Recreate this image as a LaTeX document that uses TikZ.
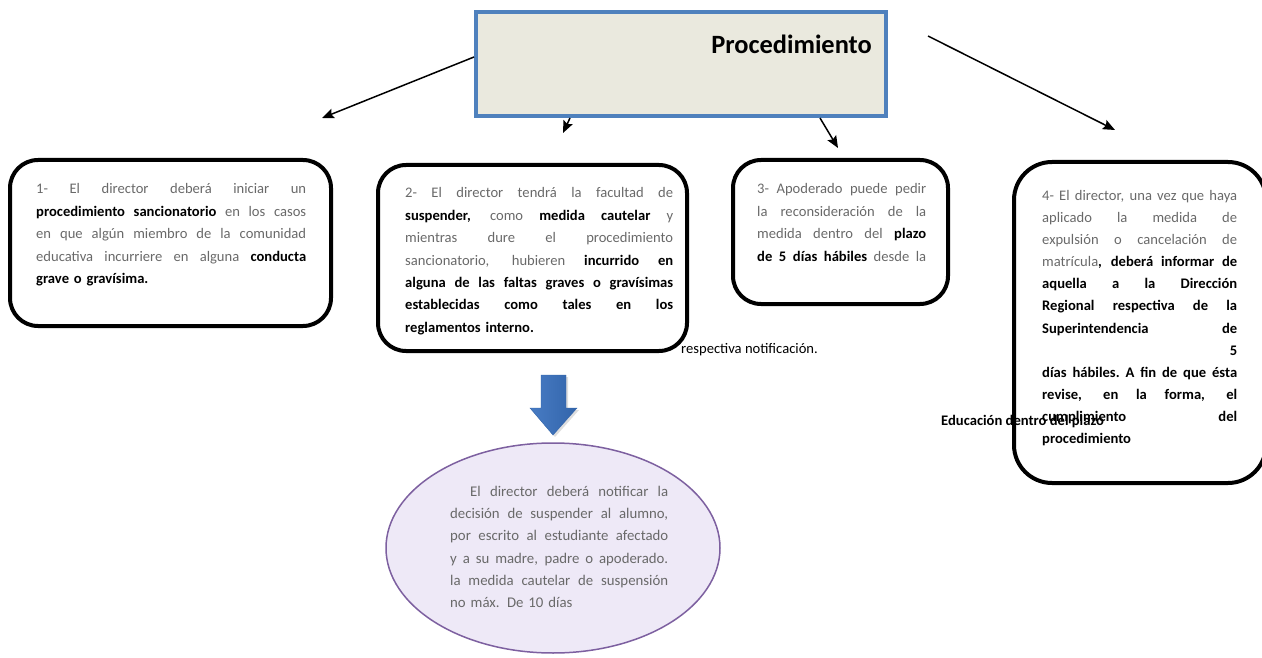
\documentclass[tikz,border=0pt]{standalone}
\usepackage{fontspec}
\setmainfont{Carlito}
\usetikzlibrary{arrows.meta,shapes.geometric}
\definecolor{tgray}{RGB}{105,105,105}
\definecolor{tblue}{RGB}{79,129,189}
\definecolor{tfill}{RGB}{234,233,222}
\definecolor{efill}{RGB}{238,233,247}
\definecolor{edraw}{RGB}{125,96,160}
\definecolor{abl}{RGB}{72,124,196}
\definecolor{abd}{RGB}{50,100,170}
\definecolor{shd}{RGB}{200,200,200}
\newcommand\jl[1]{\makebox[\linewidth][s]{\spaceskip=0.25em plus 10em minus 0.05em\xspaceskip=\spaceskip #1}}
\newcommand\bk[1]{\textbf{\color{black}#1}}
\begin{document}
\begin{tikzpicture}[x=1pt,y=-1pt,
  rbox/.style={draw=black,line width=4pt,rounded corners=28pt,inner sep=0pt},
  btxt/.style={inner sep=0pt,anchor=base west,align=left,font=\fontsize{14.6}{22.5}\selectfont,text=tgray},
  con/.style={line width=1.5pt,-{Stealth[length=12pt,width=10pt,inset=2pt]}}]
\useasboundingbox (0,0) rectangle (1262,658);

% title
\node[draw=tblue,fill=tfill,line width=4pt,minimum width=410pt,minimum height=104pt,inner sep=0pt] (title) at (681,64) {};
\node[anchor=base east,inner sep=0pt,font=\fontsize{26.4}{30}\selectfont\bfseries] (ttl) at (872,54) {Procedimiento};

% boxes
\node[rbox,minimum width=321pt,minimum height=166pt] (b1) at (170.5,243) {};
\node[rbox,minimum width=309pt,minimum height=186pt] (b2) at (532.5,258) {};
\node[rbox,minimum width=215pt,minimum height=144pt] (b3) at (840.5,232) {};
\node[rbox,rounded corners=38pt,minimum width=252pt,minimum height=321pt] (b4) at (1140,322.5) {};

\node[btxt,text width=270pt] (t1) at (36,193.5) {%
\jl{1- El director deberá iniciar un}\\
\jl{\bk{procedimiento sancionatorio} en los casos}\\
\jl{en que algún miembro de la comunidad}\\
\jl{educativa incurriere en alguna \bk{conducta}}\\
\bk{grave o gravísima.}};

\node[btxt,text width=268pt] (t2) at (405,197.5) {%
\jl{2- El director tendrá la facultad de}\\
\jl{\bk{suspender,} como \bk{medida cautelar} y}\\
\jl{mientras dure el procedimiento}\\
\jl{sancionatorio, hubieren \bk{incurrido en}}\\
\jl{\bk{alguna de las faltas graves o gravísimas}}\\
\jl{\bk{establecidas como tales en los}}\\
\bk{reglamentos interno.}};

\node[btxt,text width=169pt] (t3) at (757,193.5) {%
\jl{3- Apoderado puede pedir}\\
\jl{la reconsideración de la}\\
\jl{medida dentro del \bk{plazo}}\\
\jl{\bk{de 5 días hábiles} desde la}};

\node[anchor=base west,inner sep=0pt,font=\fontsize{14.6}{17}\selectfont] (rn) at (681,353) {respectiva notificación.};

\node[btxt,text width=195pt,font=\fontsize{14.6}{22.1}\selectfont] (t4) at (1042,200.5) {%
\jl{4- El director, una vez  que haya}\\
\jl{aplicado la medida de}\\
\jl{expulsión o cancelación de}\\
\jl{matrícula\bk{, deberá informar de}}\\
\jl{\bk{aquella a la Dirección}}\\
\jl{\bk{Regional respectiva de la}}\\
\jl{\bk{Superintendencia de}}\\
\makebox[\linewidth][r]{\bk{5}}\\
\jl{\bk{días hábiles. A fin de que ésta}}\\
\jl{\bk{revise, en la forma, el}}\\
\jl{\bk{cumplimiento del}}\\
\bk{procedimiento}};

\node[anchor=base west,inner sep=0pt,font=\fontsize{14.6}{17}\selectfont\bfseries] (edu) at (941,425) {Educación dentro del plazo};

% connectors
\coordinate (e1) at (322,118);
\coordinate (e2) at (563,133);
\coordinate (e3) at (838,148);
\coordinate (e4) at (1115,130);
\draw[con] ([yshift=7pt]title.west) -- (e1);
\draw[con] ([xshift=-111pt]title.south) -- (e2);
\draw[con] ([xshift=139pt]title.south) -- (e3);
\draw[con] ([xshift=40pt,yshift=28pt]title.east) -- (e4);

% block arrow (with soft shadow)
\fill[shd,opacity=0.6]
  (543,377) -- (568,377) -- (568,410) -- (579,410) -- (555,437) -- (532,410) -- (543,410) -- cycle;
\shade[left color=abl,right color=abd,draw=abd,line width=0.4pt]
  (541,375) -- (566,375) -- (566,408) -- (577,408) -- (553,435) -- (530,408) -- (541,408) -- cycle;

% ellipse
\node[ellipse,draw=edraw,fill=efill,line width=1.5pt,minimum width=334pt,minimum height=210pt,inner sep=0pt] (el) at (553,548) {};
\node[btxt,text width=218pt,font=\fontsize{14.8}{22.2}\selectfont] (te) at (450,496.5) {%
\jl{\hspace*{20pt}El director deberá notificar la}\\
\jl{decisión de suspender al alumno,}\\
\jl{por escrito al estudiante afectado}\\
\jl{y a su madre, padre o apoderado.}\\
\jl{la medida cautelar de suspensión}\\
no máx. De 10 días};
\end{tikzpicture}
\end{document}
